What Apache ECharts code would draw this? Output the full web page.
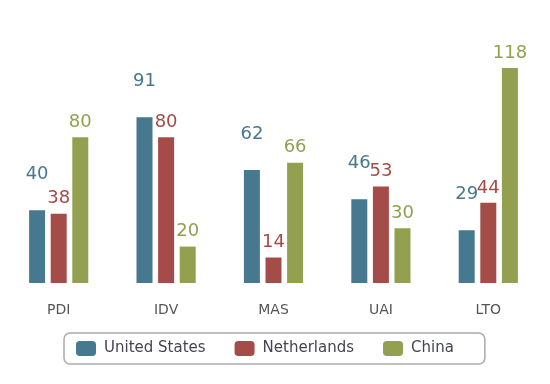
<!DOCTYPE html>
<html><head><meta charset="utf-8">
<script src="https://cdn.jsdelivr.net/npm/echarts@6/dist/echarts.min.js"></script>
<style>html,body{margin:0;padding:0;background:#fff}#c{width:550px;height:384px}</style>
</head><body><div id="c"></div>
<script>
const categories = ['PDI','IDV','MAS','UAI','LTO'];
const unitedStates = [40,91,62,46,29];
const netherlands = [38,80,14,53,44];
const china = [80,20,66,30,118];
const seriesNames = ['United States','Netherlands','China'];
const colors = ['#46788f','#a44c48','#93a050'];
const FONT = 'DejaVu Sans';
const chart = echarts.init(document.getElementById('c'));
function mk(name, data, color, off){
  return {name, type:'bar', data, barWidth:16, barGap:'35%', itemStyle:{color},
    label:{show:true, position:'top', distance:6, offset:off, color, fontSize:18, fontFamily:FONT}};
}
chart.setOption({
  animation:false,
  grid:{left:5, right:8, top:28, bottom:101},
  xAxis:{type:'category', data:categories, axisLine:{show:false}, axisTick:{show:false},
    axisLabel:{margin:20, color:'#555', fontSize:14, fontFamily:FONT}},
  yAxis:{type:'value', min:0, max:140, show:false, splitLine:{show:false}},
  legend:{bottom:20, left:64, itemWidth:20, itemHeight:15, itemGap:29,
    padding:[8,31,8,12], borderColor:'#aaa', borderWidth:1.5, borderRadius:6,
    textStyle:{color:'#445', fontSize:15, fontFamily:FONT, padding:[0,0,0,3]},
    icon:'roundRect', data:seriesNames},
  series:[mk(seriesNames[0], unitedStates, colors[0], [0,-21]),
          mk(seriesNames[1], netherlands, colors[1], [0,0]),
          mk(seriesNames[2], china, colors[2], [0,0])]
});
</script></body></html>
